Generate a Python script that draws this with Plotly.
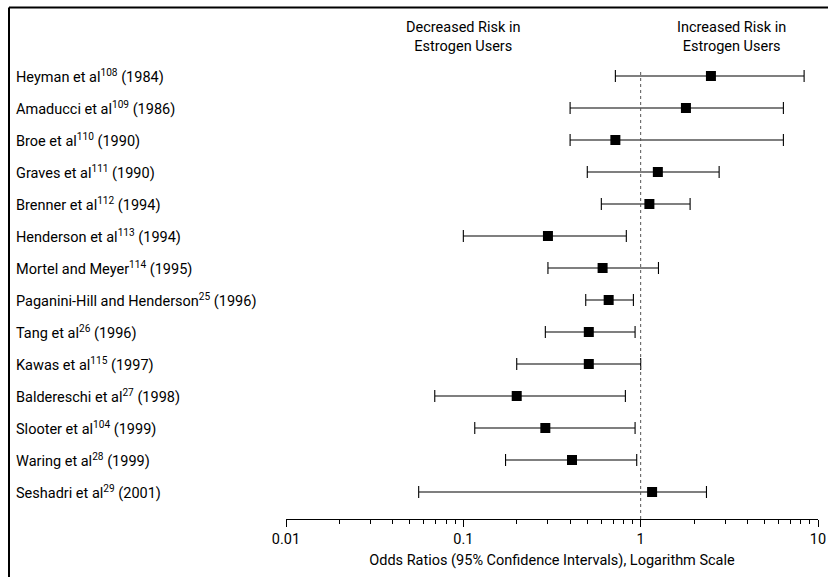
import plotly.graph_objects as go

studies = [
    "Heyman et al<sup>108</sup> (1984)",
    "Amaducci et al<sup>109</sup> (1986)",
    "Broe et al<sup>110</sup> (1990)",
    "Graves et al<sup>111</sup> (1990)",
    "Brenner et al<sup>112</sup> (1994)",
    "Henderson et al<sup>113</sup> (1994)",
    "Mortel and Meyer<sup>114</sup> (1995)",
    "Paganini-Hill and Henderson<sup>25</sup> (1996)",
    "Tang et al<sup>26</sup> (1996)",
    "Kawas et al<sup>115</sup> (1997)",
    "Baldereschi et al<sup>27</sup> (1998)",
    "Slooter et al<sup>104</sup> (1999)",
    "Waring et al<sup>28</sup> (1999)",
    "Seshadri et al<sup>29</sup> (2001)",
]
odds = [2.49, 1.80, 0.72, 1.25, 1.12, 0.30, 0.61, 0.66, 0.51, 0.51, 0.20, 0.29, 0.41, 1.16]
lower = [0.72, 0.40, 0.40, 0.50, 0.60, 0.10, 0.30, 0.49, 0.29, 0.20, 0.069, 0.116, 0.173, 0.056]
upper = [8.35, 6.38, 6.38, 2.77, 1.90, 0.83, 1.26, 0.91, 0.93, 1.00, 0.82, 0.93, 0.95, 2.35]
tick_vals = [0.01, 0.1, 1, 10]
tick_text = ["0.01", "0.1", "1", "10"]
minor_vals = [m * d for d in [0.01, 0.1, 1] for m in range(2, 10)]

rows = list(range(len(studies)))
FONT = "Liberation Sans Narrow, Arial Narrow, Roboto, sans-serif"
FS = 14.5

fig = go.Figure()
fig.add_trace(go.Scatter(
    x=odds, y=rows, mode="markers",
    marker=dict(symbol="square", size=10, color="black"),
    error_x=dict(type="data", symmetric=False,
                 array=[u - o for u, o in zip(upper, odds)],
                 arrayminus=[o - l for o, l in zip(odds, lower)],
                 color="black", thickness=1.1, width=6),
    showlegend=False, hoverinfo="skip",
))

W, H = 828, 577
L, R, T, B = 286, 10, 60, 58
pw, ph = W - L - R, H - T - B

def px(x):
    return (x - L) / pw

def py(y):
    return (H - B - y) / ph

annotations = []
for i, s in enumerate(studies):
    annotations.append(dict(x=px(14), xref="paper", y=i, yref="y", text=s,
                            showarrow=False, xanchor="left", yanchor="middle",
                            font=dict(family=FONT, size=FS, color="black")))
annotations.append(dict(x=px(463.5), xref="paper", y=py(37), yref="paper",
                        text="Decreased Risk in<br>Estrogen Users", showarrow=False,
                        xanchor="center", yanchor="middle", align="center",
                        font=dict(family=FONT, size=FS, color="black")))
annotations.append(dict(x=px(731), xref="paper", y=py(37), yref="paper",
                        text="Increased Risk in<br>Estrogen Users", showarrow=False,
                        xanchor="center", yanchor="middle", align="center",
                        font=dict(family=FONT, size=FS, color="black")))

shapes = [
    dict(type="line", xref="x", yref="paper", x0=1, x1=1, y0=0, y1=py(71),
         line=dict(color="#555", width=1, dash="dot")),
    dict(type="line", xref="paper", yref="paper", x0=px(9), x1=px(828), y0=py(7.5), y1=py(7.5),
         line=dict(color="black", width=2)),
    dict(type="line", xref="paper", yref="paper", x0=px(9), x1=px(9), y0=py(7.5), y1=py(577),
         line=dict(color="black", width=2)),
]

fig.update_layout(
    width=W, height=H,
    margin=dict(l=L, r=R, t=T, b=B),
    paper_bgcolor="white", plot_bgcolor="white",
    font=dict(family=FONT, size=FS, color="black"),
    annotations=annotations, shapes=shapes,
    xaxis=dict(type="log", range=[-2, 1], tickvals=tick_vals, ticktext=tick_text,
               automargin=False,
               ticks="outside", ticklen=7, tickwidth=1, tickcolor="black",
               showline=True, linecolor="black", linewidth=1, showgrid=False,
               zeroline=False,
               minor=dict(tickvals=minor_vals, ticks="outside", ticklen=4,
                          tickcolor="black", tickwidth=1, showgrid=False),
               title=dict(text="Odds Ratios (95% Confidence Intervals), Logarithm Scale",
                          standoff=7, font=dict(family=FONT, size=FS)),
               tickfont=dict(family=FONT, size=FS)),
    yaxis=dict(range=[(H - B - 76) / 32.0, -0.5], showticklabels=False, showgrid=False,
               automargin=False,
               zeroline=False, showline=False, ticks=""),
)

fig.write_html("out.html", config={"displayModeBar": False},
               post_script="document.body.style.margin='0px';document.body.style.padding='0px';")
